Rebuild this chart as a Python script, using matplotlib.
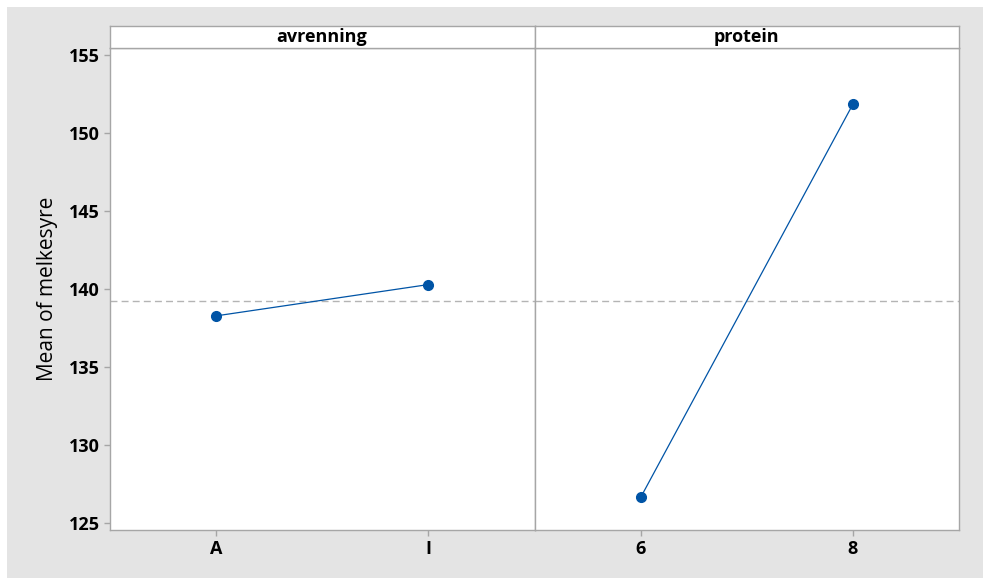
import matplotlib.pyplot as plt
from matplotlib.patches import Rectangle

# main effects data
factors = ['avrenning', 'protein']
levels = [['A', 'I'], ['6', '8']]
means = [[138.25, 140.26], [126.63, 151.82]]
grand_mean = 139.23

plt.rcParams['font.family'] = ['Open Sans', 'DejaVu Sans']

W, H = 994, 581
fig = plt.figure(figsize=(W / 100, H / 100), dpi=100)
fig.patch.set_facecolor('white')
fig.patches.append(Rectangle((7 / W, 1 - 578 / H), 976 / W, 571 / H,
                             transform=fig.transFigure, facecolor='#e4e4e4',
                             edgecolor='none', zorder=-10))

frame = '#a6a6a6'
blue = '#0054a6'
left, mid, right = 109.5 / W, 534.7 / W, 959 / W
bot, top, strip_top = 1 - 530 / H, 1 - 47.7 / H, 1 - 25.7 / H

axes = []
for i, (name, lv, m) in enumerate(zip(factors, levels, means)):
    x0 = left if i == 0 else mid
    w = (mid - left) if i == 0 else (right - mid)
    ax = fig.add_axes([x0, bot, w, top - bot])
    ax.set_facecolor('white')
    xs = list(range(1, len(lv) + 1))
    ax.plot(xs, m, color=blue, lw=0.9, marker='o', ms=7, mec=blue, mfc=blue)
    ax.axhline(grand_mean, color='#b4b4b4', lw=1, ls=(0, (5, 3)), zorder=0)
    ax.set_xlim(0.5, len(lv) + 0.5)
    ax.set_ylim(124.53, 155.44)
    ax.set_xticks(xs)
    ax.set_xticklabels(lv, fontsize=13, fontweight='bold')
    ax.set_yticks([125, 130, 135, 140, 145, 150, 155])
    for s in ax.spines.values():
        s.set_color(frame)
        s.set_linewidth(1)
    ax.tick_params(axis='both', color=frame, length=4, width=1, pad=3)
    if i == 0:
        ax.set_yticklabels(['125', '130', '135', '140', '145', '150', '155'],
                           fontsize=13, fontweight='bold')
        ax.set_ylabel('Mean of melkesyre', fontsize=15, labelpad=8)
    else:
        ax.tick_params(axis='y', left=False, labelleft=False)
    axes.append(ax)

    sax = fig.add_axes([x0, top, w, strip_top - top])
    sax.set_facecolor('white')
    sax.set_xticks([])
    sax.set_yticks([])
    for s in sax.spines.values():
        s.set_color(frame)
        s.set_linewidth(1)
    sax.text(0.5, 0.5, name, ha='center', va='center', fontsize=13,
             fontweight='bold', transform=sax.transAxes)

fig.savefig('out.png', dpi=100)
